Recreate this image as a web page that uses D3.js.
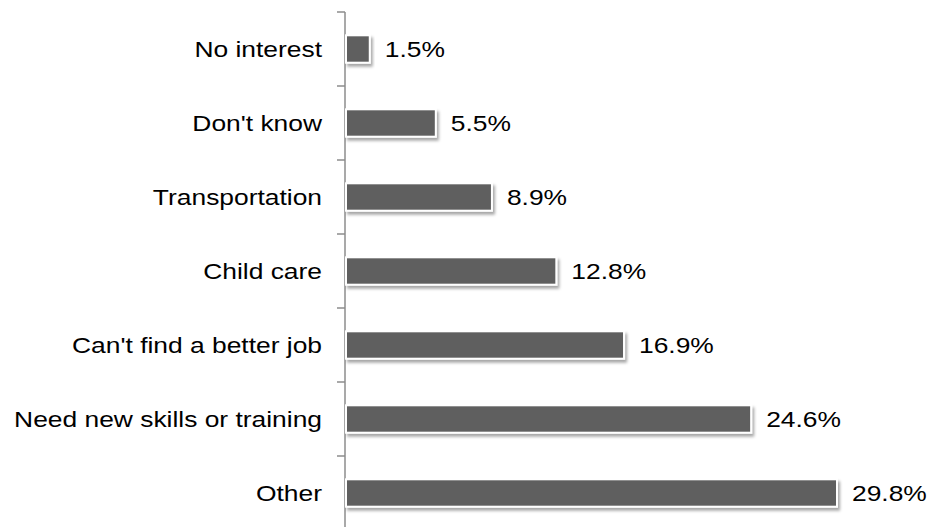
<!DOCTYPE html>
<html><head><meta charset="utf-8">
<script src="https://cdn.jsdelivr.net/npm/d3@7"></script>
<style>body{margin:0;background:#fff;}svg{display:block;}text{font-family:"Liberation Sans",Arial,sans-serif;}</style>
</head><body>
<svg id="c" width="935" height="527"></svg>
<script>
const categories = ["No interest","Don't know","Transportation","Child care","Can't find a better job","Need new skills or training","Other"];
const values = [1.5, 5.5, 8.9, 12.8, 16.9, 24.6, 29.8];
const valueLabels = ["1.5%","5.5%","8.9%","12.8%","16.9%","24.6%","29.8%"];

const svg = d3.select("#c");
const x0 = 345, plotTop = 12, band = 74, sx = 1.2, fs = 22;
const y = d3.scaleBand().domain(categories).range([plotTop, plotTop + band*categories.length]).paddingInner(0.63).paddingOuter(0.315);
const x = d3.scaleLinear().domain([0, 29.8]).range([x0, x0 + 492]);

const defs = svg.append("defs");
const f = defs.append("filter").attr("id","sh").attr("x","-10%").attr("y","-30%").attr("width","130%").attr("height","180%");
f.append("feDropShadow").attr("dx",2).attr("dy",3).attr("stdDeviation",1.6).attr("flood-color","#000").attr("flood-opacity",0.35);

// axis
const gAx = svg.append("g").attr("transform",`translate(${x0},0)`);
gAx.append("line").attr("x1",0).attr("x2",0).attr("y1",plotTop).attr("y2",527+20).attr("stroke","#8c8c8c").attr("stroke-width",1.5);
const bounds = d3.range(categories.length+1).map(i => plotTop + i*band);
gAx.selectAll("line.t").data(bounds).join("line").attr("class","t")
  .attr("x1",-8).attr("x2",0).attr("y1",d=>d).attr("y2",d=>d).attr("stroke","#8c8c8c").attr("stroke-width",1.5);

// labels
svg.append("g").selectAll("text").data(categories).join("text")
  .attr("transform", d => `translate(322,${y(d) + y.bandwidth()/2}) scale(${sx},1)`)
  .attr("text-anchor","end").attr("dominant-baseline","central")
  .attr("font-size",fs).attr("fill","#000").text(d=>d);

// bars
svg.append("g").selectAll("rect").data(values).join("rect")
  .attr("x", x(0)+1).attr("y",(d,i)=>y(categories[i]))
  .attr("width", d => x(d)-x(0)-1).attr("height", y.bandwidth())
  .attr("fill","#5f5f5f").attr("stroke","#fff").attr("stroke-width",2)
  .attr("filter","url(#sh)");

svg.append("g").selectAll("text").data(values).join("text")
  .attr("transform",(d,i)=>`translate(${x(d) + 15},${y(categories[i]) + y.bandwidth()/2}) scale(${sx},1)`)
  .attr("dominant-baseline","central").attr("font-size",fs).attr("fill","#000")
  .text((d,i)=>valueLabels[i]);
</script>
</body></html>
